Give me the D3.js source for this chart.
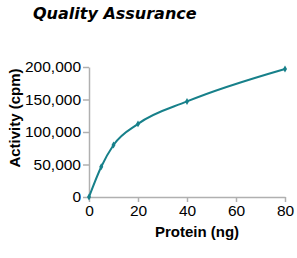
<!DOCTYPE html>
<html><head><meta charset="utf-8">
<script src="https://cdn.jsdelivr.net/npm/d3@7"></script>
<style>body{margin:0;background:#fff}</style>
</head><body>
<script>
const protein = [0, 5, 10, 20, 40, 80];
const activity = [0, 46500, 80000, 112500, 147000, 197000];
const xTicks = [0, 20, 40, 60, 80];
const yTicks = [0, 50000, 100000, 150000, 200000];
const title = "Quality Assurance";
const xLabel = "Protein (ng)";
const yLabel = "Activity (cpm)";

const W = 297, H = 258;
const svg = d3.select("body").append("svg").attr("width", W).attr("height", H);
const x = d3.scaleLinear().domain([0, 80]).range([89, 285]);
const y = d3.scaleLinear().domain([0, 200000]).range([197, 67]);
const fmt = d3.format(",");
const teal = "#17808a";
const axisCol = "#b0b0b0";

svg.append("text").attr("x", 33).attr("y", 19)
  .attr("font-family", "DejaVu Sans").attr("font-weight", "bold").attr("font-style", "italic")
  .attr("font-size", 16).attr("fill", "#000").text(title);

const gy = svg.append("g").attr("transform", "translate(89,0)")
  .call(d3.axisLeft(y).tickValues(yTicks).tickFormat(fmt).tickSize(6).tickPadding(2).tickSizeOuter(0));
const gx = svg.append("g").attr("transform", "translate(0,197)")
  .call(d3.axisBottom(x).tickValues(xTicks).tickSize(5).tickPadding(3).tickSizeOuter(0));
[gx, gy].forEach(g => {
  g.selectAll("path, line").attr("stroke", axisCol).attr("stroke-width", 1.5);
  g.selectAll("text").attr("font-family", "Liberation Sans, Arial").attr("font-size", 15.5).attr("fill", "#000");
});

svg.append("text").attr("x", 197).attr("y", 237).attr("text-anchor", "middle")
  .attr("font-family", "Liberation Sans, Arial").attr("font-weight", "bold").attr("font-size", 15).text(xLabel);
svg.append("text").attr("transform", "translate(20,118) rotate(-90)").attr("text-anchor", "middle")
  .attr("font-family", "Liberation Sans, Arial").attr("font-weight", "bold").attr("font-size", 15).text(yLabel);

const data = protein.map((p, i) => [p, activity[i]]);
svg.append("path").datum(data)
  .attr("d", d3.line().x(d => x(d[0])).y(d => y(d[1])).curve(d3.curveMonotoneX))
  .attr("fill", "none").attr("stroke", teal).attr("stroke-width", 2);
svg.selectAll(".m").data(data).join("path").attr("class", "m")
  .attr("transform", d => `translate(${x(d[0])},${y(d[1])})`)
  .attr("d", d3.symbol(d3.symbolDiamond, 14)).attr("fill", teal);
</script>
</body></html>
